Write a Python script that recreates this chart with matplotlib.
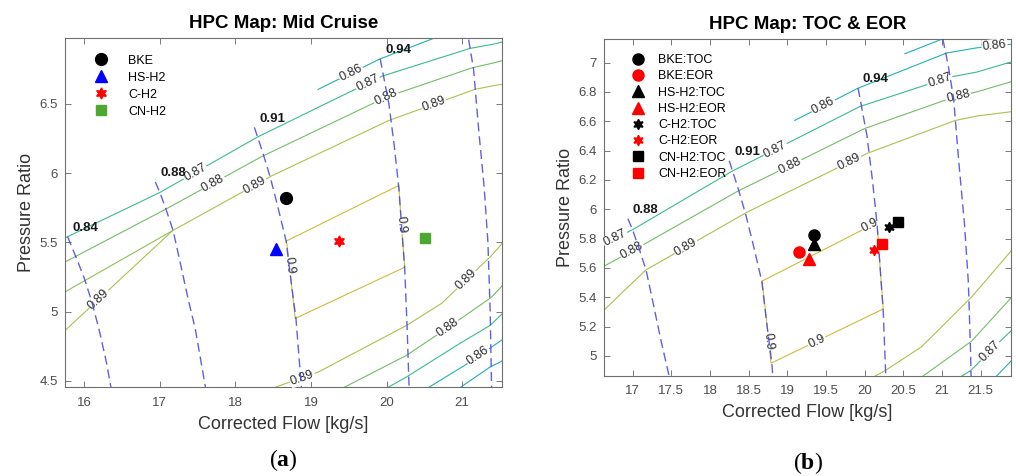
import numpy as np
import matplotlib.pyplot as plt

plt.rcParams["font.family"] = ["Liberation Sans", "DejaVu Sans"]
plt.rcParams["mathtext.fontset"] = "custom"
plt.rcParams["mathtext.rm"] = "Liberation Serif"
plt.rcParams["mathtext.bf"] = "Liberation Serif:bold"

# ---- compressor map (same map on both panels) ----
speed_names = ["0.84", "0.88", "0.91", "0.94", ""]
speed_flow = [
    [15.78, 15.90, 16.00, 16.10, 16.20, 16.29, 16.37],
    [16.94, 17.00, 17.08, 17.175, 17.27, 17.37, 17.47, 17.62],
    [18.25, 18.36, 18.46, 18.55, 18.67, 18.74, 18.80, 18.88],
    [19.915, 20.03, 20.10, 20.16, 20.20, 20.24, 20.27, 20.30],
    [21.01, 21.08, 21.15, 21.22, 21.29, 21.34, 21.37, 21.39],
]
speed_pr = [
    [5.54, 5.38, 5.24, 5.07, 4.86, 4.64, 4.40],
    [5.935, 5.86, 5.74, 5.585, 5.35, 5.10, 4.87, 4.40],
    [6.33, 6.15, 5.97, 5.78, 5.51, 5.20, 4.95, 4.40],
    [6.825, 6.50, 6.20, 5.90, 5.60, 5.30, 4.90, 4.40],
    [7.16, 6.98, 6.75, 6.30, 5.90, 5.50, 5.00, 4.40],
]

eff_level = ["0.85", "0.86", "0.87", "0.88", "0.89", "0.9", "0.89", "0.88", "0.87", "0.86", "0.85"]
eff_flow = [
    [20.52, 21.10],
    [19.095, 19.915, 21.06, 21.45, 21.90],
    [15.70, 17.00, 18.29, 19.94, 21.10, 21.45, 21.90],
    [15.70, 17.08, 18.35, 20.00, 21.13, 21.45, 21.90],
    [15.70, 17.17, 18.48, 20.03, 21.17, 21.45, 21.90],
    [18.675, 20.16, 20.20, 20.24, 18.79, 18.74, 18.675],
    [18.25, 19.10, 20.265, 20.73, 21.38, 21.90],
    [19.25, 20.265, 20.80, 21.38, 21.90],
    [19.85, 20.265, 20.97, 21.37, 21.75, 21.90],
    [20.40, 21.035, 21.39, 21.70, 21.90],
    [20.89, 21.37, 21.52, 21.90],
]
eff_pr = [
    [7.06, 7.18],
    [6.605, 6.825, 7.065, 7.10, 7.125],
    [5.52, 5.86, 6.26, 6.70, 6.90, 6.935, 7.005],
    [5.345, 5.74, 6.12, 6.55, 6.76, 6.80, 6.87],
    [4.84, 5.585, 5.98, 6.38, 6.605, 6.635, 6.665],
    [5.51, 5.91, 5.60, 5.32, 4.95, 5.20, 5.51],
    [4.40, 4.564, 4.90, 5.06, 5.40, 5.72],
    [4.40, 4.684, 4.88, 5.10, 5.40],
    [4.40, 4.528, 4.77, 4.90, 5.10, 5.175],
    [4.40, 4.612, 4.744, 4.86, 4.97],
    [4.42, 4.60, 4.64, 4.78],
]
# short extra branch only seen on the mid-cruise panel
extra_flow = [15.70, 17.17]
extra_pr = [5.128, 5.585]

level_color = {
    "0.85": "#27a9c4", "0.86": "#22b3ae", "0.87": "#3cba8f",
    "0.88": "#72be64", "0.89": "#aac24c", "0.9": "#cbbd3e",
}

# ---- operating points ----
mid_names = ["BKE", "HS-H2", "C-H2", "CN-H2"]
mid_flow = [18.67, 18.54, 19.37, 20.51]
mid_pr = [5.82, 5.45, 5.51, 5.53]

toc_eor_names = ["BKE:TOC", "BKE:EOR", "HS-H2:TOC", "HS-H2:EOR",
                 "C-H2:TOC", "C-H2:EOR", "CN-H2:TOC", "CN-H2:EOR"]
toc_eor_flow = [19.34, 19.155, 19.34, 19.28, 20.32, 20.12, 20.43, 20.23]
toc_eor_pr = [5.824, 5.71, 5.76, 5.658, 5.876, 5.721, 5.915, 5.76]

HEX = (6, 1, 0)
mid_style = [("o", "black", 8.5), ("^", "blue", 9), (HEX, "red", 8), ("s", "#4ea72e", 7)]
toc_eor_style = [("o", "black", 8), ("o", "red", 8), ("^", "black", 8), ("^", "red", 8),
                 (HEX, "black", 7.5), (HEX, "red", 7.5), ("s", "black", 6.5), ("s", "red", 6.5)]

# contour labels per panel: (contour index, flow, pr) near where the label sits
mid_labels = [(1, 19.55, 6.70), (2, 17.47, 6.0), (2, 19.75, 6.65), (3, 17.70, 5.93),
              (3, 19.99, 6.55), (4, 16.19, 5.09), (4, 18.26, 5.91), (4, 20.63, 6.49),
              (5, 18.70, 5.33), (5, 20.20, 5.63), (6, 18.88, 4.53), (6, 21.07, 5.22),
              (7, 20.81, 4.88), (9, 21.21, 4.68)]
toc_labels = [(1, 19.47, 6.70), (1, 21.68, 7.11), (2, 16.80, 5.78), (2, 18.84, 6.41),
              (2, 20.97, 6.88), (3, 16.99, 5.72), (3, 19.03, 6.30), (3, 21.21, 6.77),
              (4, 17.69, 5.74), (4, 19.80, 6.32), (5, 18.76, 5.10), (5, 19.38, 5.10),
              (5, 20.07, 5.89), (8, 21.62, 5.03)]

SPEED_C = (0.27, 0.27, 0.86)
TICK_C = "#4d4d4d"


def label_on(ax, xs, ys, px, py, text):
    # snap to the closest segment and align with it on screen
    pts = ax.transData.transform(np.column_stack([xs, ys]))
    tgt = ax.transData.transform((px, py))
    best = None
    for a, b in zip(pts[:-1], pts[1:]):
        ab = b - a
        t = np.clip(np.dot(tgt - a, ab) / np.dot(ab, ab), 0, 1)
        p = a + t * ab
        d = np.hypot(*(tgt - p))
        if best is None or d < best[0]:
            best = (d, p, ab)
    _, p, ab = best
    ang = np.degrees(np.arctan2(ab[1], ab[0]))
    if ang > 90:
        ang -= 180
    if ang <= -90:
        ang += 180
    x, y = ax.transData.inverted().transform(p)
    ax.text(x, y, text, rotation=ang, rotation_mode="anchor", ha="center", va="center",
            fontsize=9, color="#2b2b2b", zorder=3,
            bbox=dict(facecolor="white", edgecolor="none", pad=0.6))


def draw_map(ax, labels, extra=False):
    for lev, xs, ys in zip(eff_level, eff_flow, eff_pr):
        ax.plot(xs, ys, color=level_color[lev], lw=0.8, zorder=2)
    if extra:
        ax.plot(extra_flow, extra_pr, color="#8fc056", lw=0.8, zorder=2)
    for i, x, y in labels:
        label_on(ax, eff_flow[i], eff_pr[i], x, y, eff_level[i])
    for name, xs, ys in zip(speed_names, speed_flow, speed_pr):
        ax.plot(xs, ys, color=SPEED_C, alpha=0.85, lw=1.0, dashes=(6.5, 3.5), zorder=4)
        if name:
            ax.annotate(name, (xs[0], ys[0]), xytext=(3.5, 2), textcoords="offset points",
                        ha="left", va="bottom", fontsize=9.5, fontweight="bold",
                        color="#1a1a1a", zorder=6, annotation_clip=True)


def style_axes(ax, title):
    ax.set_title(title, fontsize=13.5, fontweight="bold", pad=7)
    ax.tick_params(direction="in", top=True, right=True, length=4, width=0.6,
                   colors="#666666", labelcolor=TICK_C, labelsize=9.5)
    ax.tick_params(axis="x", pad=7)
    ax.tick_params(axis="y", pad=5)
    for s in ax.spines.values():
        s.set_color("#6e6e6e")
        s.set_linewidth(0.8)
    ax.yaxis.set_major_formatter(plt.FuncFormatter(lambda v, _: f"{v:g}"))
    ax.xaxis.set_major_formatter(plt.FuncFormatter(lambda v, _: f"{v:g}"))
    ax.set_xlabel("Corrected Flow [kg/s]", fontsize=13, color="#333333")
    ax.set_ylabel("Pressure Ratio", fontsize=13, color="#333333")


fig = plt.figure(figsize=(10.16, 4.76), dpi=100, facecolor="white")

# (a) mid cruise
ax1 = fig.add_axes([0.064, 0.187, 0.430, 0.733])
ax1.set_xlim(15.745, 21.525)
ax1.set_ylim(4.455, 6.975)
ax1.set_xticks(np.arange(16, 22, 1))
ax1.set_yticks(np.arange(4.5, 6.6, 0.5))
style_axes(ax1, "HPC Map: Mid Cruise")
draw_map(ax1, mid_labels, extra=True)
for name, x, y, (m, c, ms) in zip(mid_names, mid_flow, mid_pr, mid_style):
    ax1.plot(x, y, linestyle="none", marker=m, color=c, markersize=ms, label=name, zorder=7)
ax1.legend(loc="upper left", bbox_to_anchor=(0.053, 0.952), frameon=False, fontsize=9,
           handlelength=2.0, handletextpad=1.2, labelspacing=0.40, borderpad=0,
           borderaxespad=0, numpoints=1)
ax1.xaxis.set_label_coords(0.5, -0.083)
ax1.yaxis.set_label_coords(-0.069, 0.5)

# (b) top of climb & end of runway
ax2 = fig.add_axes([0.594, 0.211, 0.401, 0.707])
ax2.set_xlim(16.625, 21.89)
ax2.set_ylim(4.866, 7.16)
ax2.set_xticks(np.arange(17, 21.6, 0.5))
ax2.set_yticks(np.arange(5, 7.01, 0.2))
style_axes(ax2, "HPC Map: TOC & EOR")
draw_map(ax2, toc_labels)
for name, x, y, (m, c, ms) in zip(toc_eor_names, toc_eor_flow, toc_eor_pr, toc_eor_style):
    ax2.plot(x, y, linestyle="none", marker=m, color=c, markersize=ms, label=name, zorder=7)
ax2.legend(loc="upper left", bbox_to_anchor=(0.055, 0.955), frameon=False, fontsize=9,
           handlelength=2.0, handletextpad=0.6, labelspacing=0.34, borderpad=0,
           borderaxespad=0, numpoints=1)
ax2.xaxis.set_label_coords(0.5, -0.084)
ax2.yaxis.set_label_coords(-0.072, 0.5)

fig.text(283 / 1016, 1 - 460 / 476, r"($\mathbf{a}$)", ha="center", va="center",
         fontsize=17, family="Liberation Serif")
fig.text(808 / 1016, 1 - 463 / 476, r"($\mathbf{b}$)", ha="center", va="center",
         fontsize=17, family="Liberation Serif")

fig.savefig("out.png", dpi=100, facecolor="white")
